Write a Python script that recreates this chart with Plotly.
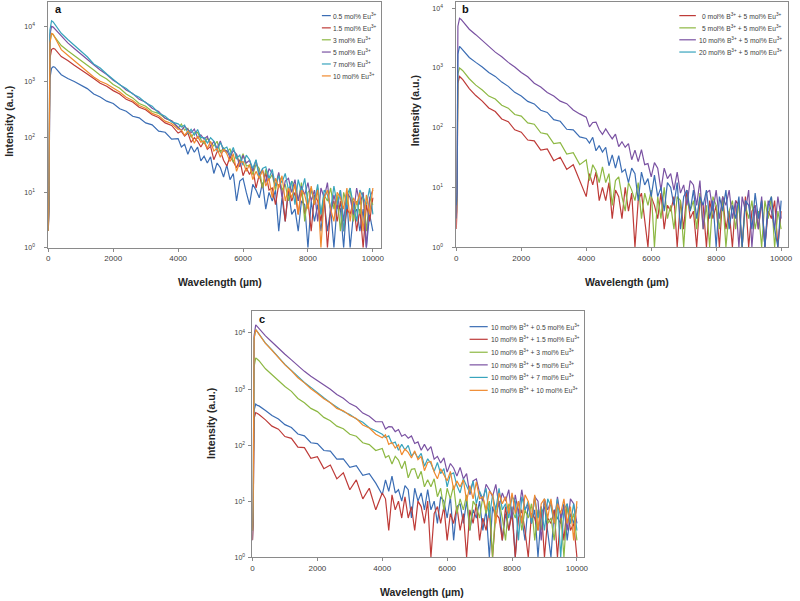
import plotly.graph_objects as go

# ---------------- data ----------------
X = [0, 20, 50, 100, 150,
     200, 400, 600, 800, 1000, 1200, 1400, 1600, 1800, 2000, 2200, 2400, 2600, 2800, 3000, 3200, 3400, 3600, 3800,
     4000, 4100, 4200, 4300, 4400, 4500, 4600, 4700, 4800, 4900,
     5000, 5100, 5200, 5300, 5400, 5500, 5600, 5700, 5800, 5900,
     6000, 6100, 6200, 6300, 6400, 6500, 6600, 6700, 6800, 6900,
     7000, 7100, 7200, 7300, 7400, 7500, 7600, 7700, 7800, 7900,
     8000, 8100, 8200, 8300, 8400, 8500, 8600, 8700, 8800, 8900,
     9000, 9100, 9200, 9300, 9400, 9500, 9600, 9700, 9800, 9900, 10000]

# panel a
A_NAMES = ["0.5 mol% Eu<sup>3+</sup>", "1.5 mol% Eu<sup>3+</sup>", "3 mol% Eu<sup>3+</sup>",
           "5 mol% Eu<sup>3+</sup>", "7 mol% Eu<sup>3+</sup>", "10 mol% Eu<sup>3+</sup>"]
A_BLUE = [2, 6, 1150, 1750, 1870,
          1830, 1340, 1140, 1010, 860, 750, 600, 530, 445, 405, 325, 292, 238, 222, 180, 166, 128, 122, 92,
          94, 66, 74, 49, 69, 53, 66, 37, 45, 34, 44, 22, 34, 28, 19, 31, 17, 22, 7, 16, 18, 10, 6, 14, 11, 8, 15, 5, 10, 7,
          11, 2, 8, 3, 11, 4, 5, 2, 7, 6, 1, 7, 3, 6, 2, 7, 2, 5, 1, 6, 5, 1, 7, 1, 4, 5, 2, 5, 1, 4, 2]
A_RED = [2, 5, 2600, 3800, 4000,
         3900, 2850, 2420, 1980, 1670, 1380, 1140, 940, 830, 690, 600, 480, 430, 345, 312, 252, 226, 180, 162,
         118, 127, 104, 119, 80, 97, 84, 66, 84, 60, 68, 39, 54, 57, 38, 30, 44, 36, 28, 39, 20, 28, 21, 28, 12, 21, 12, 23, 11, 12,
         6, 14, 11, 3, 12, 7, 10, 4, 11, 4, 7, 2, 9, 7, 3, 9, 1, 5, 7, 3, 7, 2, 5, 4, 7, 2, 5, 1, 6, 3, 8]
A_GREEN = [2, 8, 5000, 7450, 7000,
           6400, 4500, 3620, 2980, 2470, 1980, 1620, 1310, 1120, 890, 760, 600, 510, 405, 360, 290, 268, 218, 196,
           145, 171, 133, 144, 99, 119, 121, 91, 76, 95, 80, 69, 84, 53, 64, 53, 62, 35, 48, 33, 50, 30, 31, 21, 32, 27, 12, 26, 17, 21,
           11, 22, 11, 14, 7, 16, 13, 7, 15, 3, 10, 12, 6, 12, 4, 9, 7, 12, 5, 9, 2, 10, 6, 12, 3, 7, 4, 10, 2, 8, 6]
A_PURPLE = [2, 10, 7000, 10000, 9700,
            9000, 6500, 5020, 3980, 3220, 2530, 2030, 1630, 1350, 1060, 895, 710, 612, 480, 425, 332, 290, 218, 196,
            150, 132, 156, 137, 120, 139, 96, 109, 92, 103, 67, 84, 62, 85, 56, 57, 43, 57, 49, 29, 47, 34, 38, 24, 38, 21, 26, 15, 27, 22,
            13, 23, 8, 16, 18, 10, 17, 7, 13, 9, 15, 7, 11, 3, 12, 8, 15, 4, 9, 5, 11, 3, 10, 8, 4, 12, 6, 10, 1, 8, 11]
A_TEAL = [2, 12, 8500, 12600, 12000,
          11000, 7500, 5780, 4520, 3480, 2820, 2090, 1770, 1380, 1115, 885, 752, 598, 522, 418, 362, 272, 238, 188,
          173, 152, 165, 117, 138, 109, 137, 98, 98, 78, 97, 85, 56, 80, 61, 66, 47, 65, 41, 47, 31, 47, 39, 27, 39, 18, 27, 29, 18, 26,
          13, 20, 15, 22, 11, 16, 6, 17, 10, 18, 6, 11, 7, 14, 4, 11, 9, 5, 13, 6, 11, 2, 9, 12, 6, 3, 11, 8, 6, 12, 4]
A_ORANGE = [2, 15, 5000, 7450, 7200,
            6300, 3800, 3010, 2390, 1920, 1530, 1220, 1015, 910, 770, 650, 522, 458, 372, 332, 268, 242, 194, 176,
            137, 134, 108, 128, 111, 77, 103, 81, 86, 63, 83, 56, 62, 43, 60, 50, 36, 50, 24, 35, 36, 24, 32, 17, 24, 18, 25, 13, 18, 8,
            18, 12, 20, 7, 12, 8, 14, 4, 11, 9, 5, 13, 6, 11, 1, 8, 11, 5, 3, 10, 8, 5, 12, 3, 8, 6, 10, 2, 9, 4, 12]

# panel b
B_NAMES = ["0 mol% B<sup>3+</sup> + 5 mol% Eu<sup>3+</sup>", "5 mol% B<sup>3+</sup> + 5 mol% Eu<sup>3+</sup>",
           "10 mol% B<sup>3+</sup> + 5 mol% Eu<sup>3+</sup>", "20 mol% B<sup>3+</sup> + 5 mol% Eu<sup>3+</sup>"]
B_RED = [2, 4, 550, 720, 680,
         640, 452, 345, 278, 214, 186, 140, 126, 92, 84, 62, 60, 42, 44, 28, 32, 20, 24, 13,
         7, 17, 11, 18, 6, 10, 6, 12, 3, 9, 7, 3, 10, 4, 8, 1, 6, 8, 3, 1, 7, 5, 3, 8, 2, 5, 4, 7, 1, 6,
         2, 9, 3, 4, 1, 6, 5, 1, 6, 3, 5, 1, 7, 2, 4, 1, 6, 5, 1, 7, 1, 4, 5, 2, 6, 1, 4, 3, 6, 1, 4]
B_GREEN = [3, 6, 800, 1000, 950,
           900, 660, 515, 428, 338, 302, 238, 212, 166, 156, 120, 114, 82, 78, 54, 56, 36, 38, 24,
           29, 13, 24, 19, 12, 22, 12, 17, 5, 13, 15, 7, 4, 12, 9, 6, 12, 3, 8, 5, 9, 1, 7, 3, 10, 3, 5, 2, 7, 6,
           1, 7, 4, 6, 2, 8, 2, 5, 1, 7, 5, 2, 7, 1, 4, 6, 2, 6, 1, 5, 3, 6, 2, 4, 1, 6, 3, 7, 1, 4, 2]
B_PURPLE = [3, 8, 5000, 6800, 6500,
            6000, 4450, 3610, 2890, 2310, 1840, 1540, 1240, 1040, 840, 710, 555, 478, 388, 338, 278, 252, 198, 170,
            150, 103, 122, 124, 92, 77, 95, 78, 65, 78, 48, 58, 47, 54, 29, 42, 27, 43, 24, 25, 15, 26, 21, 9, 21, 14, 17, 9, 18, 8,
            11, 5, 13, 11, 5, 13, 2, 8, 9, 4, 9, 3, 7, 5, 9, 3, 6, 1, 7, 4, 9, 1, 5, 2, 7, 1, 6, 4, 2, 7, 3]
B_BLUE = [5, 8, 1700, 2300, 2150,
          2000, 1500, 1240, 1040, 840, 722, 580, 492, 390, 340, 275, 250, 196, 180, 136, 128, 94, 92, 70,
          66, 55, 69, 41, 50, 39, 47, 23, 35, 21, 34, 18, 20, 12, 21, 17, 6, 18, 11, 14, 7, 16, 7, 10, 4, 12, 10, 5, 12, 2,
          7, 9, 4, 9, 3, 7, 5, 9, 3, 6, 1, 7, 4, 9, 2, 5, 3, 7, 1, 6, 5, 2, 8, 3, 6, 1, 5, 7, 2, 1, 6]

# panel c
C_NAMES = ["10 mol% B<sup>3+</sup> + 0.5 mol% Eu<sup>3+</sup>", "10 mol% B<sup>3+</sup> + 1.5 mol% Eu<sup>3+</sup>",
           "10 mol% B<sup>3+</sup> + 3 mol% Eu<sup>3+</sup>", "10 mol% B<sup>3+</sup> + 5 mol% Eu<sup>3+</sup>",
           "10 mol% B<sup>3+</sup> + 7 mol% Eu<sup>3+</sup>", "10 mol% B<sup>3+</sup> + 10 mol% Eu<sup>3+</sup>"]
C_BLUE = [2, 5, 420, 540, 510,
          500, 415, 338, 292, 232, 206, 158, 146, 110, 106, 80, 78, 56, 57, 40, 43, 29, 31, 21,
          13, 24, 15, 28, 14, 16, 10, 19, 16, 5, 17, 10, 14, 7, 16, 7, 10, 4, 12, 10, 5, 12, 2, 8, 9, 4, 10, 3, 7, 5,
          10, 3, 7, 1, 8, 5, 10, 2, 6, 3, 8, 1, 7, 5, 2, 9, 4, 7, 1, 6, 8, 3, 1, 7, 5, 4, 9, 2, 6, 4, 8]
C_RED = [2, 4, 300, 380, 365,
         350, 282, 218, 192, 142, 132, 92, 90, 58, 62, 38, 44, 25, 32, 16, 24, 11, 17, 7,
         14, 11, 3, 13, 7, 10, 5, 12, 5, 8, 3, 10, 8, 4, 10, 1, 6, 8, 4, 8, 2, 6, 4, 8, 3, 6, 1, 7, 4, 9,
         2, 5, 3, 7, 1, 6, 5, 2, 8, 3, 6, 1, 5, 7, 3, 1, 6, 5, 3, 8, 1, 5, 4, 7, 1, 6, 2, 9, 3, 4, 1]
C_GREEN = [3, 8, 2500, 3600, 3400,
           3200, 2300, 1790, 1430, 1110, 910, 680, 570, 452, 396, 312, 272, 218, 196, 156, 144, 110, 102, 80,
           87, 60, 65, 46, 63, 54, 38, 52, 26, 37, 38, 25, 34, 18, 24, 18, 25, 12, 17, 7, 17, 11, 19, 6, 11, 7, 13, 3, 10, 8,
           5, 12, 6, 10, 1, 8, 10, 5, 2, 9, 7, 5, 10, 3, 7, 5, 9, 2, 7, 3, 11, 4, 5, 2, 8, 6, 1, 8, 4, 6, 2]
C_PURPLE = [3, 10, 9000, 14000, 13000,
            12000, 8900, 6900, 5300, 4180, 3320, 2590, 2070, 1690, 1430, 1170, 995, 800, 685, 550, 482, 372, 328, 262,
            261, 193, 214, 212, 174, 189, 144, 155, 133, 146, 107, 114, 81, 103, 80, 94, 56, 63, 48, 59, 33, 47, 39, 28, 40, 25, 31, 13, 23, 25,
            14, 10, 20, 16, 12, 20, 8, 14, 10, 16, 5, 13, 6, 16, 7, 9, 4, 12, 10, 2, 11, 7, 10, 4, 12, 5, 8, 3, 11, 9, 4]
C_TEAL = [3, 10, 8000, 11500, 10600,
          9600, 6600, 5000, 3680, 2760, 2150, 1660, 1310, 1070, 850, 700, 572, 478, 398, 352, 292, 256, 204, 180,
          156, 136, 146, 107, 113, 81, 103, 82, 99, 64, 74, 59, 71, 42, 57, 47, 34, 49, 31, 38, 18, 30, 32, 19, 14, 25, 19, 14, 23, 9,
          15, 11, 17, 5, 13, 7, 17, 7, 9, 5, 12, 10, 2, 12, 7, 10, 4, 12, 5, 8, 3, 11, 8, 4, 11, 1, 7, 9, 4, 9, 3]
C_ORANGE = [3, 10, 8000, 11500, 10500,
            9500, 6500, 4900, 3600, 2700, 2110, 1590, 1290, 1010, 830, 670, 570, 452, 408, 338, 298, 228, 202, 156,
            135, 153, 103, 111, 89, 102, 67, 85, 74, 59, 79, 55, 63, 35, 49, 51, 33, 25, 38, 30, 23, 34, 16, 23, 18, 24, 10, 19, 11, 22,
            11, 12, 7, 15, 13, 4, 14, 9, 12, 6, 14, 6, 10, 4, 13, 10, 5, 13, 3, 9, 11, 5, 11, 4, 9, 6, 11, 4, 8, 2, 10]

X_TICKS = [0, 2000, 4000, 6000, 8000, 10000]
Y_TICKS = [1, 10, 100, 1000, 10000]
Y_TICKTEXT = ["10<sup>0</sup>", "10<sup>1</sup>", "10<sup>2</sup>", "10<sup>3</sup>", "10<sup>4</sup>"]
X_TITLE = "Wavelength (µm)"
Y_TITLE = "Intensity (a.u.)"

# ---------------- styling ----------------
BLUE, RED, GREEN = "#3B6DB4", "#BE3B38", "#8DB843"
PURPLE, TEAL, ORANGE = "#7A52A2", "#38A4BD", "#F08A2E"
FRAME = "#8a8a8a"
TXT = "#262626"
TICKC = "#404040"
FONT = "Liberation Sans, Arial, sans-serif"
W, H = 800, 601


def fx(p):
    return p / W


def fy(p):
    return 1 - p / H


panels = [
    dict(sfx="", dom_x=(46.7, 382.0), dom_y=(2.0, 249.0), xmax=10240, ymax=4.44, stand=8,
         series=[(A_BLUE, BLUE), (A_RED, RED), (A_GREEN, GREEN), (A_PURPLE, PURPLE), (A_TEAL, TEAL), (A_ORANGE, ORANGE)],
         names=A_NAMES, leg_colors=[BLUE, RED, GREEN, PURPLE, TEAL, ORANGE],
         leg_line=(322.7, 331.7), leg_tx=333.3, leg_anchor="left",
         leg_y=[15.7, 28.0, 40.0, 52.3, 64.3, 76.3],
         letter="a", letter_pos=(56.5, 9.0), xt_pos=(219.5, 283.0), yt_pos=(7.0, 121.5)),
    dict(sfx="2", dom_x=(458.3, 793.0), dom_y=(1.7, 248.3), xmax=10213, ymax=4.11, stand=8,
         series=[(B_RED, RED), (B_GREEN, GREEN), (B_PURPLE, PURPLE), (B_BLUE, BLUE)],
         names=B_NAMES, leg_colors=[RED, GREEN, PURPLE, TEAL],
         leg_line=(683.3, 700.0), leg_tx=788.3, leg_anchor="right",
         leg_y=[15.7, 28.0, 40.0, 52.3],
         letter="b", letter_pos=(468.0, 9.0), xt_pos=(630.5, 283.0), yt_pos=(417.5, 111.0)),
    dict(sfx="3", dom_x=(252.7, 586.7), dom_y=(312.7, 560.0), xmax=10205, ymax=4.39, stand=2,
         series=[(C_BLUE, BLUE), (C_RED, RED), (C_GREEN, GREEN), (C_PURPLE, PURPLE), (C_TEAL, TEAL), (C_ORANGE, ORANGE)],
         names=C_NAMES, leg_colors=[BLUE, RED, GREEN, PURPLE, TEAL, ORANGE],
         leg_line=(471.7, 490.0), leg_tx=492.7, leg_anchor="left",
         leg_y=[328.3, 341.0, 354.0, 366.7, 379.3, 392.3],
         letter="c", letter_pos=(262.0, 320.5), xt_pos=(424.0, 595.0), yt_pos=(211.0, 426.0)),
]

fig = go.Figure()
annotations = []
shapes = []
layout_axes = {}

for p in panels:
    s = p["sfx"]
    for vals, col in p["series"]:
        fig.add_trace(go.Scatter(x=X, y=vals, mode="lines", xaxis="x" + s, yaxis="y" + s,
                                 line=dict(color=col, width=1.2), hoverinfo="skip", showlegend=False))
    common = dict(showline=True, linecolor=FRAME, linewidth=1, mirror=True, showgrid=False,
                  zeroline=False, ticks="outside", ticklen=3, tickcolor=FRAME, tickwidth=1)
    layout_axes["xaxis" + s] = dict(common, domain=[fx(p["dom_x"][0]), fx(p["dom_x"][1])],
                                    range=[0, p["xmax"]], tickvals=X_TICKS,
                                    ticktext=[str(t) for t in X_TICKS], anchor="y" + s,
                                    tickfont=dict(family=FONT, size=8, color=TICKC))
    layout_axes["yaxis" + s] = dict(common, domain=[fy(p["dom_y"][1]), fy(p["dom_y"][0])],
                                    type="log", range=[0, p["ymax"]], tickvals=Y_TICKS,
                                    ticktext=Y_TICKTEXT, anchor="x" + s,
                                    ticklabelstandoff=p["stand"],
                                    tickfont=dict(family=FONT, size=7, color=TICKC))
    annotations.append(dict(text="<b>%s</b>" % p["letter"], x=fx(p["letter_pos"][0]), y=fy(p["letter_pos"][1]),
                            xref="paper", yref="paper", showarrow=False, xanchor="center", yanchor="middle",
                            font=dict(family=FONT, size=11, color="#111111")))
    annotations.append(dict(text="<b>%s</b>" % X_TITLE, x=fx(p["xt_pos"][0]), y=fy(p["xt_pos"][1]),
                            xref="paper", yref="paper", showarrow=False, xanchor="center", yanchor="middle",
                            font=dict(family=FONT, size=10.5, color=TXT)))
    annotations.append(dict(text="<b>%s</b>" % Y_TITLE, x=fx(p["yt_pos"][0]), y=fy(p["yt_pos"][1]),
                            xref="paper", yref="paper", showarrow=False, xanchor="center", yanchor="middle",
                            textangle=-90, font=dict(family=FONT, size=10.5, color=TXT)))
    for name, col, yy in zip(p["names"], p["leg_colors"], p["leg_y"]):
        shapes.append(dict(type="line", xref="paper", yref="paper",
                           x0=fx(p["leg_line"][0]), x1=fx(p["leg_line"][1]), y0=fy(yy), y1=fy(yy),
                           line=dict(color=col, width=1.2)))
        annotations.append(dict(text=name, x=fx(p["leg_tx"]), y=fy(yy), xref="paper", yref="paper",
                                showarrow=False, xanchor=p["leg_anchor"], yanchor="middle", borderpad=0,
                                font=dict(family=FONT, size=6.7, color=TICKC)))

fig.update_layout(width=W, height=H, margin=dict(l=0, r=0, t=0, b=0),
                  paper_bgcolor="white", plot_bgcolor="white", showlegend=False,
                  annotations=annotations, shapes=shapes, **layout_axes)

fig.write_html("out.html")
